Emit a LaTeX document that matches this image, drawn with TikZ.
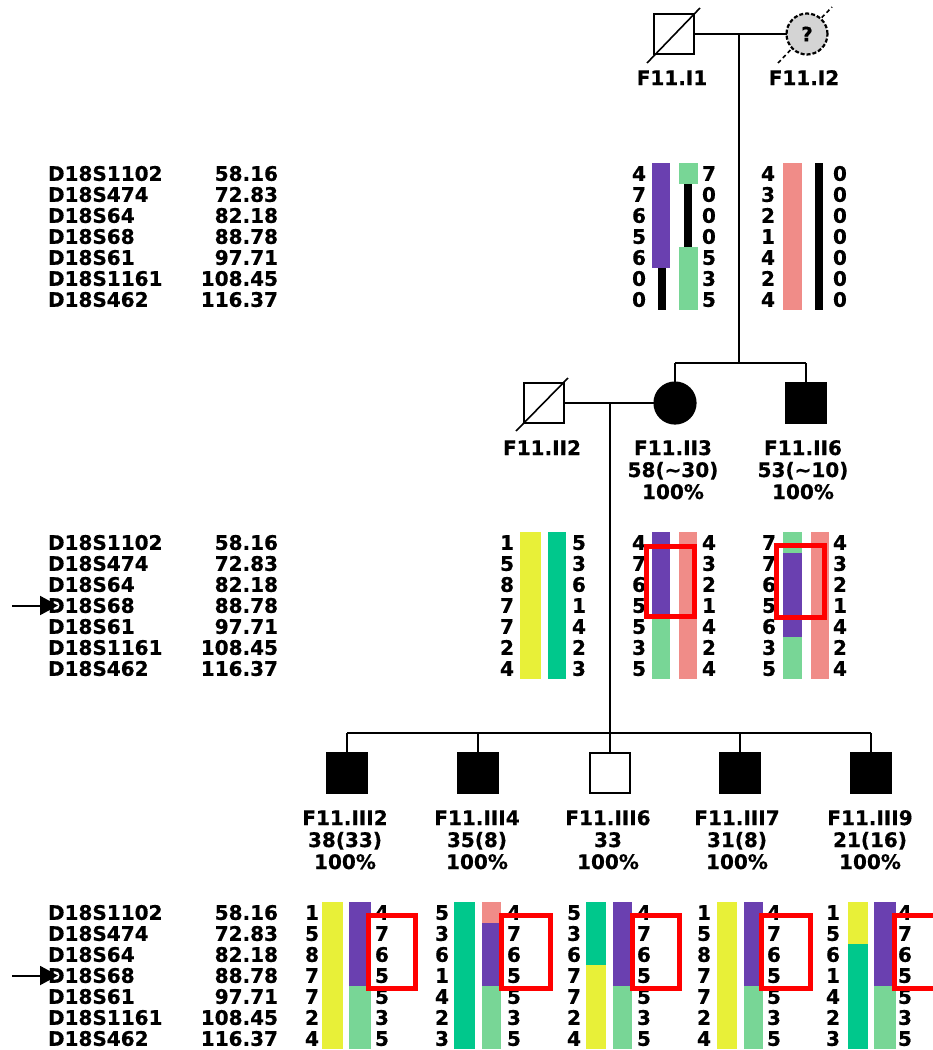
\documentclass[tikz,border=0pt]{standalone}
\usepackage{fontspec}
\setmainfont{DejaVu Sans}[BoldFeatures={FakeBold=0.6}]
\usetikzlibrary{arrows.meta}

\definecolor{hpurple}{HTML}{6A40B0}
\definecolor{hgreen}{HTML}{78D696}
\definecolor{hpink}{HTML}{F08C88}
\definecolor{hyellow}{HTML}{E8F038}
\definecolor{hteal}{HTML}{00C88C}
\definecolor{hgray}{HTML}{D4D4D4}

% marker names and positions, one row every 21 units from the block top
\newcommand\markertable[2]{%
  \foreach \nm/\cm [count=\i from 0] in {D18S1102/58.16,D18S474/72.83,D18S64/82.18,D18S68/88.78,D18S61/97.71,D18S1161/108.45,D18S462/116.37}{%
    \node[txt, anchor=base west] (#2m\i) at (48,#1+17.8+21*\i) {\nm};
    \node[txt, anchor=base east] (#2p\i) at (278,#1+17.8+21*\i) {\cm};
  }}
% column of allele numbers: x, anchor side, top, list, name prefix
\newcommand\allelecol[5]{%
  \foreach \a [count=\i from 0] in {#4}{%
    \node[txt, anchor=base #2] (#5\i) at (#1,#3+17.8+21*\i) {\a};}}
% haplotype segment: x left, x right, top, first row, last row, colour
\newcommand\hseg[6]{\fill[#6] (#1,#3+21*#4) rectangle (#2,#3+21*#5+21);}

\begin{document}
\begin{tikzpicture}[x=1pt,y=-1pt,
  font=\fontsize{20}{22}\selectfont\bfseries,
  txt/.style={inner sep=0pt, outer sep=0pt},
  person/.style={draw=black, line width=2.2pt, minimum size=40pt, inner sep=0pt, outer sep=0pt},
  male/.style={person, rectangle},
  female/.style={person, circle, minimum size=41pt},
  conn/.style={line width=2.2pt},
  slash/.style={line width=1.6pt},
  redbox/.style={draw=red, line width=5pt},
  pointer/.style={line width=2pt, -{Triangle[length=18pt,width=19pt]}}]
\useasboundingbox (0,0) rectangle (933,1050);

% ---------------- generation I ----------------
\draw[slash] (647,63) -- (700,8);
\node[male] (I1) at (674,34) {};
\draw[slash, dash pattern=on 4pt off 3pt] (778,63) -- (832,7);
\node[female, dash pattern=on 4pt off 2pt, fill=hgray] (I2) at (807,34) {?};
\node[txt, anchor=base] (I1l) at (672,85) {F11.I1};
\node[txt, anchor=base] (I2l) at (804,85) {F11.I2};

\draw[conn] (I1.east) -- (I2.west);
\coordinate (mI) at (739,34);
\coordinate (sI) at (739,363);
\coordinate (sIa) at (675,363);
\coordinate (sIb) at (806,363);
\draw[conn] (mI) -- (sI);
\draw[conn] (sIa) -- (sIb);

\markertable{163}{A}
% F11.I1
\hseg{652}{670}{163}{0}{4}{hpurple}
\hseg{658}{666}{163}{5}{6}{black}
\hseg{679}{698}{163}{0}{0}{hgreen}
\hseg{684}{692}{163}{1}{3}{black}
\hseg{679}{698}{163}{4}{6}{hgreen}
\allelecol{646}{east}{163}{4,7,6,5,6,0,0}{Ia}
\allelecol{702}{west}{163}{7,0,0,0,5,3,5}{Ib}
% F11.I2
\hseg{783}{802}{163}{0}{6}{hpink}
\hseg{815}{823}{163}{0}{6}{black}
\allelecol{775}{east}{163}{4,3,2,1,4,2,4}{Ic}
\allelecol{833}{west}{163}{0,0,0,0,0,0,0}{Id}

% ---------------- generation II ----------------
\draw[slash] (516,431) -- (568,378);
\node[male] (II2) at (544,403) {};
\node[female, fill=black] (II3) at (675,403) {};
\node[male, fill=black] (II6) at (806,403) {};
\draw[conn] (sIa) -- (II3.north);
\draw[conn] (sIb) -- (II6.north);

\node[txt, anchor=base] (II2l) at (542,455) {F11.II2};
\node[txt, anchor=base] (II3l) at (673,455) {F11.II3};
\node[txt, anchor=base] (II3a) at (673,477) {58(\textasciitilde30)};
\node[txt, anchor=base] (II3p) at (673,499) {100\%};
\node[txt, anchor=base] (II6l) at (803,455) {F11.II6};
\node[txt, anchor=base] (II6a) at (803,477) {53(\textasciitilde10)};
\node[txt, anchor=base] (II6p) at (803,499) {100\%};

\draw[conn] (II2.east) -- (II3.west);
\coordinate (mII) at (610,403);
\coordinate (sII) at (610,733);
\coordinate (sIIa) at (347,733);
\coordinate (sIIb) at (871,733);
\draw[conn] (mII) -- (sII);
\draw[conn] (sIIa) -- (sIIb);

\markertable{532}{B}
% F11.II2
\hseg{520}{541}{532}{0}{6}{hyellow}
\hseg{548}{566}{532}{0}{6}{hteal}
\allelecol{514}{east}{532}{1,5,8,7,7,2,4}{IIa}
\allelecol{572}{west}{532}{5,3,6,1,4,2,3}{IIb}
% F11.II3
\hseg{652}{670}{532}{0}{3}{hpurple}
\hseg{652}{670}{532}{4}{6}{hgreen}
\hseg{679}{697}{532}{0}{6}{hpink}
\allelecol{646}{east}{532}{4,7,6,5,5,3,5}{IIc}
\allelecol{702}{west}{532}{4,3,2,1,4,2,4}{IId}
% F11.II6
\hseg{783}{802}{532}{0}{0}{hgreen}
\hseg{783}{802}{532}{1}{4}{hpurple}
\hseg{783}{802}{532}{5}{6}{hgreen}
\hseg{811}{829}{532}{0}{6}{hpink}
\allelecol{776}{east}{532}{7,7,6,5,6,3,5}{IIe}
\allelecol{833}{west}{532}{4,3,2,1,4,2,4}{IIf}

\draw[redbox] (646.5,546.5) rectangle (694.5,616.5);
\draw[redbox] (776.5,545.5) rectangle (824.5,617.5);

\coordinate (pA) at (12,605.5);
\coordinate (pB) at (58,605.5);
\draw[pointer] (pA) -- (pB);

% ---------------- generation III ----------------
\node[male, fill=black] (III2) at (347,773) {};
\node[male, fill=black] (III4) at (478,773) {};
\node[male] (III6) at (610,773) {};
\node[male, fill=black] (III7) at (740,773) {};
\node[male, fill=black] (III9) at (871,773) {};
\foreach \p in {III2,III4,III6,III7,III9}{
  \draw[conn] (\p.north |- sIIa) -- (\p.north);}

\foreach \p/\x/\age in {III2/345/38(33),III4/477/35(8),III6/608/33,III7/737/31(8),III9/870/21(16)}{
  \node[txt, anchor=base] (\p l) at (\x,825) {F11.\p};
  \node[txt, anchor=base] (\p a) at (\x,847) {\age};
  \node[txt, anchor=base] (\p p) at (\x,869) {100\%};}

\markertable{902}{C}
% F11.III2
\hseg{322}{343}{902}{0}{6}{hyellow}
\hseg{349}{371}{902}{0}{3}{hpurple}
\hseg{349}{371}{902}{4}{6}{hgreen}
\allelecol{319}{east}{902}{1,5,8,7,7,2,4}{IIIa}
\allelecol{375}{west}{902}{4,7,6,5,5,3,5}{IIIb}
% F11.III4
\hseg{454}{475}{902}{0}{6}{hteal}
\hseg{482}{501}{902}{0}{0}{hpink}
\hseg{482}{501}{902}{1}{3}{hpurple}
\hseg{482}{501}{902}{4}{6}{hgreen}
\allelecol{449}{east}{902}{5,3,6,1,4,2,3}{IIIc}
\allelecol{507}{west}{902}{4,7,6,5,5,3,5}{IIId}
% F11.III6
\hseg{586}{606}{902}{0}{2}{hteal}
\hseg{586}{606}{902}{3}{6}{hyellow}
\hseg{613}{632}{902}{0}{3}{hpurple}
\hseg{613}{632}{902}{4}{6}{hgreen}
\allelecol{581}{east}{902}{5,3,6,7,7,2,4}{IIIe}
\allelecol{637}{west}{902}{4,7,6,5,5,3,5}{IIIf}
% F11.III7
\hseg{717}{737}{902}{0}{6}{hyellow}
\hseg{744}{763}{902}{0}{3}{hpurple}
\hseg{744}{763}{902}{4}{6}{hgreen}
\allelecol{711}{east}{902}{1,5,8,7,7,2,4}{IIIg}
\allelecol{767}{west}{902}{4,7,6,5,5,3,5}{IIIh}
% F11.III9
\hseg{848}{868}{902}{0}{1}{hyellow}
\hseg{848}{868}{902}{2}{6}{hteal}
\hseg{874}{896}{902}{0}{3}{hpurple}
\hseg{874}{896}{902}{4}{6}{hgreen}
\allelecol{840}{east}{902}{1,5,6,1,4,2,3}{IIIi}
\allelecol{898}{west}{902}{4,7,6,5,5,3,5}{IIIj}

\draw[redbox] (368.5,915.5) rectangle (415.5,988.5);
\draw[redbox] (501.5,915.5) rectangle (550.5,988.5);
\draw[redbox] (632.5,915.5) rectangle (679.5,988.5);
\draw[redbox] (761.5,915.5) rectangle (810.5,988.5);
\draw[redbox] (933,915.5) -- (894.5,915.5) -- (894.5,988.5) -- (933,988.5);

\coordinate (qA) at (12,975.5);
\coordinate (qB) at (58,975.5);
\draw[pointer] (qA) -- (qB);
\end{tikzpicture}
\end{document}
